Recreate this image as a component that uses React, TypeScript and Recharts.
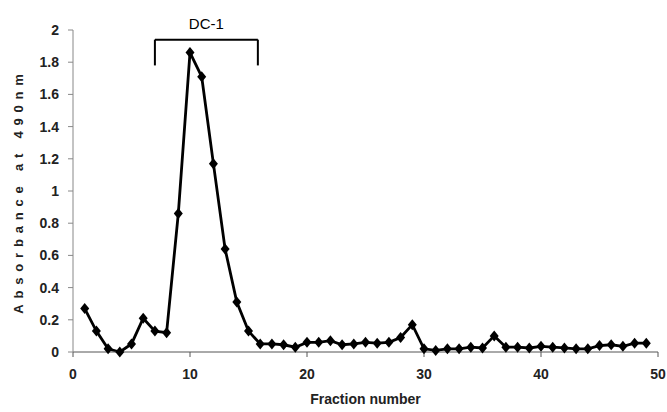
import React from 'react';
import { LineChart, Line, XAxis, YAxis, ReferenceLine } from 'recharts';

// fraction numbers 1..49 and absorbance
const fractions = [
    1, 2, 3, 4, 5, 6, 7, 8, 9, 10, 11, 12, 13, 14, 15, 16, 17, 18, 19, 20,
    21, 22, 23, 24, 25, 26, 27, 28, 29, 30, 31, 32, 33, 34, 35, 36, 37, 38, 39, 40,
    41, 42, 43, 44, 45, 46, 47, 48, 49,
];
const absorbance = [
    0.27, 0.13, 0.02, 0.0, 0.05, 0.21, 0.13, 0.12, 0.86, 1.86, 1.71, 1.17, 0.64, 0.31, 0.13, 0.05, 0.05, 0.045, 0.03, 0.06,
    0.06, 0.07, 0.045, 0.05, 0.06, 0.055, 0.06, 0.09, 0.17, 0.02, 0.01, 0.02, 0.02, 0.03, 0.025, 0.1, 0.03, 0.03, 0.025, 0.035,
    0.03, 0.025, 0.02, 0.02, 0.04, 0.045, 0.035, 0.055, 0.055,
];
const xTicks = [0, 10, 20, 30, 40, 50];
const yTicks = [0, 0.2, 0.4, 0.6, 0.8, 1, 1.2, 1.4, 1.6, 1.8, 2];

// DC-1 bracket, in data units
const bracketFrom = 7;
const bracketTo = 15.8;
const bracketTop = 1.94;
const bracketBottom = 1.78;

const data = fractions.map((f, i) => ({ fraction: f, abs: absorbance[i] }));

const Diamond = (props: any) => {
    const { cx, cy } = props;
    if (cx == null || cy == null) return null;
    const r = 5.5;
    return (
        <polygon
            points={`${cx},${cy - r} ${cx + r - 1},${cy} ${cx},${cy + r} ${cx - r + 1},${cy}`}
            fill="#000"
        />
    );
};

const font = 'Liberation Sans, Arial, sans-serif';
const tickStyle = { fontSize: 14, fontWeight: 'bold' as const, fill: '#222', fontFamily: font };

const App = () => {
    return (
        <div style={{ position: 'absolute', left: 0, top: 0 }}>
            <LineChart width={667} height={412} data={data} margin={{ top: 30, right: 9, left: 0, bottom: 0 }}>
                <XAxis
                    dataKey="fraction"
                    type="number"
                    domain={[0, 50]}
                    ticks={xTicks}
                    stroke="#555"
                    tick={tickStyle}
                    tickSize={5}
                    tickMargin={12}
                    height={60}
                    label={{
                        value: 'Fraction number',
                        position: 'insideBottom',
                        offset: 8,
                        style: { fontSize: 14, fontWeight: 'bold', fill: '#222', fontFamily: font },
                    }}
                />
                <YAxis
                    type="number"
                    domain={[0, 2]}
                    ticks={yTicks}
                    width={73}
                    stroke="#888"
                    tick={tickStyle}
                    tickSize={5}
                    tickMargin={9}
                    label={{
                        content: ({ viewBox }: any) => {
                            const x = viewBox.x + 20;
                            const y = viewBox.y + viewBox.height / 2;
                            return (
                                <text
                                    x={x}
                                    y={y}
                                    transform={`rotate(-90, ${x}, ${y})`}
                                    textAnchor="middle"
                                    dominantBaseline="middle"
                                    style={{ fontSize: 13, fontWeight: 'bold', fill: '#222', letterSpacing: 5.8, fontFamily: font }}
                                >
                                    Absorbance at 490nm
                                </text>
                            );
                        },
                    }}
                />
                <ReferenceLine
                    segment={[{ x: bracketFrom, y: bracketBottom }, { x: bracketFrom, y: bracketTop }]}
                    stroke="#000"
                    strokeWidth={2}
                    ifOverflow="visible"
                />
                <ReferenceLine
                    segment={[{ x: bracketFrom, y: bracketTop }, { x: bracketTo, y: bracketTop }]}
                    stroke="#000"
                    strokeWidth={2}
                    ifOverflow="visible"
                    label={{
                        value: 'DC-1',
                        position: 'top',
                        offset: 11,
                        style: { fontSize: 15, fill: '#000', fontFamily: font },
                    }}
                />
                <ReferenceLine
                    segment={[{ x: bracketTo, y: bracketTop }, { x: bracketTo, y: bracketBottom }]}
                    stroke="#000"
                    strokeWidth={2}
                    ifOverflow="visible"
                />
                <Line
                    type="linear"
                    dataKey="abs"
                    stroke="#000"
                    strokeWidth={2.8}
                    dot={<Diamond />}
                    activeDot={false}
                    isAnimationActive={false}
                />
            </LineChart>
        </div>
    );
};

export default App;
